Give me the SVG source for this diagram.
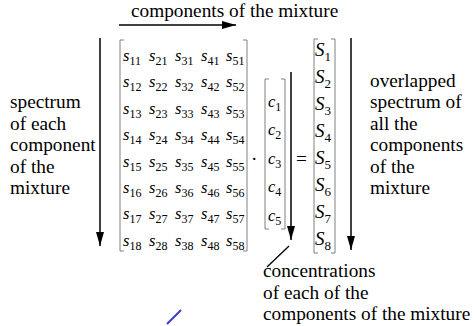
<svg xmlns="http://www.w3.org/2000/svg" width="474" height="326" viewBox="0 0 474 326" font-family="'Liberation Serif', 'Times New Roman', serif">
<defs>
<style>
text{font-family:'Liberation Serif','Times New Roman',serif;fill:#000}
.lbl{font-size:19.3px}
.e{font-size:12px}
.v{font-style:italic;font-size:16.5px}
.E{font-size:13px}
.V{font-style:italic;font-size:19px}
.br{fill:none;stroke:#808080;stroke-width:1}
.ar{stroke:#000;stroke-width:1.5;fill:none}
</style>
<marker id="ahb" viewBox="0 0 14 8" refX="14" refY="4" markerWidth="14" markerHeight="8" markerUnits="userSpaceOnUse" orient="auto">
<path d="M0,0 L14,4 L0,8 z" fill="#000"/>
</marker>
</defs>
<g id="connectors">
<line class="ar" x1="119" y1="25" x2="236" y2="25" marker-end="url(#ahb)"/>
<line class="ar" x1="100" y1="38" x2="100" y2="246" marker-end="url(#ahb)"/>
<line class="ar" x1="291" y1="72" x2="291" y2="240" marker-end="url(#ahb)"/>
<line class="ar" x1="351" y1="38" x2="351" y2="250" marker-end="url(#ahb)"/>
<line x1="289" y1="246" x2="267" y2="267" stroke="#000" stroke-width="1.3"/>
<line x1="181" y1="310" x2="167" y2="324" stroke="#3a3ad8" stroke-width="2"/>
</g>
<g id="title"><text class="lbl" x="131" y="17">components of the mixture</text></g>
<g id="left-label">
<text class="lbl" x="10" y="108">spectrum</text>
<text class="lbl" x="10" y="129.5">of each</text>
<text class="lbl" x="10" y="151">component</text>
<text class="lbl" x="10" y="172.5">of the</text>
<text class="lbl" x="10" y="194">mixture</text>
</g>
<g id="right-label">
<text class="lbl" x="370" y="86.5">overlapped</text>
<text class="lbl" x="370" y="108">spectrum of</text>
<text class="lbl" x="370" y="129.5">all the</text>
<text class="lbl" x="370" y="151">components</text>
<text class="lbl" x="370" y="172.5">of the</text>
<text class="lbl" x="370" y="194">mixture</text>
</g>
<g id="bottom-label">
<text class="lbl" x="263" y="277">concentrations</text>
<text class="lbl" x="263" y="298.5">of each of the</text>
<text class="lbl" x="263" y="320">components of the mixture</text>
</g>
<g id="matrix-s">
<path class="br" d="M124,40 H120 V251 H124 M243,40 H247 V251 H243"/>
<text class="e" y="61"><tspan class="v" x="123">s</tspan><tspan dy="4">11</tspan><tspan class="v" x="149" dy="-4">s</tspan><tspan dy="4">21</tspan><tspan class="v" x="175" dy="-4">s</tspan><tspan dy="4">31</tspan><tspan class="v" x="201" dy="-4">s</tspan><tspan dy="4">41</tspan><tspan class="v" x="226" dy="-4">s</tspan><tspan dy="4">51</tspan></text>
<text class="e" y="87.4"><tspan class="v" x="123">s</tspan><tspan dy="4">12</tspan><tspan class="v" x="149" dy="-4">s</tspan><tspan dy="4">22</tspan><tspan class="v" x="175" dy="-4">s</tspan><tspan dy="4">32</tspan><tspan class="v" x="201" dy="-4">s</tspan><tspan dy="4">42</tspan><tspan class="v" x="226" dy="-4">s</tspan><tspan dy="4">52</tspan></text>
<text class="e" y="113.8"><tspan class="v" x="123">s</tspan><tspan dy="4">13</tspan><tspan class="v" x="149" dy="-4">s</tspan><tspan dy="4">23</tspan><tspan class="v" x="175" dy="-4">s</tspan><tspan dy="4">33</tspan><tspan class="v" x="201" dy="-4">s</tspan><tspan dy="4">43</tspan><tspan class="v" x="226" dy="-4">s</tspan><tspan dy="4">53</tspan></text>
<text class="e" y="140.2"><tspan class="v" x="123">s</tspan><tspan dy="4">14</tspan><tspan class="v" x="149" dy="-4">s</tspan><tspan dy="4">24</tspan><tspan class="v" x="175" dy="-4">s</tspan><tspan dy="4">34</tspan><tspan class="v" x="201" dy="-4">s</tspan><tspan dy="4">44</tspan><tspan class="v" x="226" dy="-4">s</tspan><tspan dy="4">54</tspan></text>
<text class="e" y="166.6"><tspan class="v" x="123">s</tspan><tspan dy="4">15</tspan><tspan class="v" x="149" dy="-4">s</tspan><tspan dy="4">25</tspan><tspan class="v" x="175" dy="-4">s</tspan><tspan dy="4">35</tspan><tspan class="v" x="201" dy="-4">s</tspan><tspan dy="4">45</tspan><tspan class="v" x="226" dy="-4">s</tspan><tspan dy="4">55</tspan></text>
<text class="e" y="193"><tspan class="v" x="123">s</tspan><tspan dy="4">16</tspan><tspan class="v" x="149" dy="-4">s</tspan><tspan dy="4">26</tspan><tspan class="v" x="175" dy="-4">s</tspan><tspan dy="4">36</tspan><tspan class="v" x="201" dy="-4">s</tspan><tspan dy="4">46</tspan><tspan class="v" x="226" dy="-4">s</tspan><tspan dy="4">56</tspan></text>
<text class="e" y="219.4"><tspan class="v" x="123">s</tspan><tspan dy="4">17</tspan><tspan class="v" x="149" dy="-4">s</tspan><tspan dy="4">27</tspan><tspan class="v" x="175" dy="-4">s</tspan><tspan dy="4">37</tspan><tspan class="v" x="201" dy="-4">s</tspan><tspan dy="4">47</tspan><tspan class="v" x="226" dy="-4">s</tspan><tspan dy="4">57</tspan></text>
<text class="e" y="245.8"><tspan class="v" x="123">s</tspan><tspan dy="4">18</tspan><tspan class="v" x="149" dy="-4">s</tspan><tspan dy="4">28</tspan><tspan class="v" x="175" dy="-4">s</tspan><tspan dy="4">38</tspan><tspan class="v" x="201" dy="-4">s</tspan><tspan dy="4">48</tspan><tspan class="v" x="226" dy="-4">s</tspan><tspan dy="4">58</tspan></text>
</g>
<g id="dot"><text class="lbl" x="251" y="165">·</text></g>
<g id="vector-c">
<path class="br" d="M269,79 H265 V229 H269 M281,79 H285 V229 H281"/>
<text class="e" y="106.5"><tspan class="v" x="268">c</tspan><tspan dy="4">1</tspan></text>
<text class="e" y="135"><tspan class="v" x="268">c</tspan><tspan dy="4">2</tspan></text>
<text class="e" y="163.5"><tspan class="v" x="268">c</tspan><tspan dy="4">3</tspan></text>
<text class="e" y="192"><tspan class="v" x="268">c</tspan><tspan dy="4">4</tspan></text>
<text class="e" y="220.5"><tspan class="v" x="268">c</tspan><tspan dy="4">5</tspan></text>
</g>
<g id="equals"><text class="lbl" x="296" y="165">=</text></g>
<g id="vector-S">
<path class="br" d="M318,39 H314 V253 H318 M331,39 H335 V253 H331"/>
<text class="E" y="56"><tspan class="V" x="315">S</tspan><tspan dy="5">1</tspan></text>
<text class="E" y="83"><tspan class="V" x="315">S</tspan><tspan dy="5">2</tspan></text>
<text class="E" y="110"><tspan class="V" x="315">S</tspan><tspan dy="5">3</tspan></text>
<text class="E" y="137"><tspan class="V" x="315">S</tspan><tspan dy="5">4</tspan></text>
<text class="E" y="164"><tspan class="V" x="315">S</tspan><tspan dy="5">5</tspan></text>
<text class="E" y="191"><tspan class="V" x="315">S</tspan><tspan dy="5">6</tspan></text>
<text class="E" y="218"><tspan class="V" x="315">S</tspan><tspan dy="5">7</tspan></text>
<text class="E" y="245"><tspan class="V" x="315">S</tspan><tspan dy="5">8</tspan></text>
</g>
</svg>
